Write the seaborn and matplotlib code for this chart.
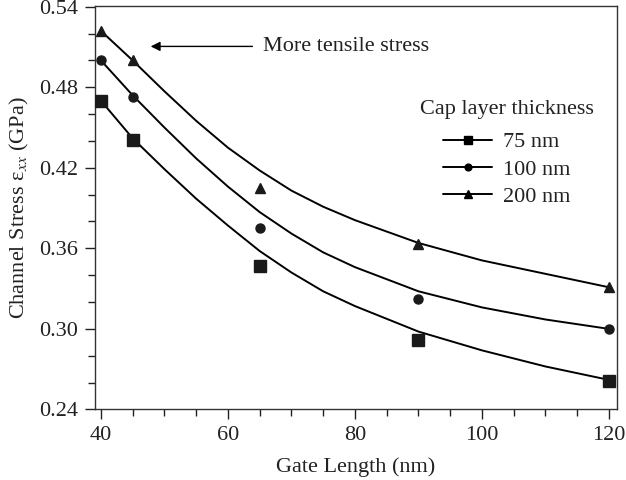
import numpy as np
import pandas as pd
import matplotlib
matplotlib.use('Agg')
import matplotlib.pyplot as plt
import seaborn as sns
from matplotlib.lines import Line2D
from matplotlib.ticker import MultipleLocator, FormatStrFormatter

# measured points
gate_length = [40, 45, 65, 90, 120]
stress_75 = [0.470, 0.441, 0.347, 0.292, 0.261]
stress_100 = [0.500, 0.473, 0.375, 0.322, 0.300]
stress_200 = [0.522, 0.500, 0.405, 0.363, 0.331]

# fitted curves
curve_x = [40, 45, 50, 55, 60, 65, 70, 75, 80, 90, 100, 110, 120]
curve_75 = [0.470, 0.442, 0.419, 0.397, 0.377, 0.358, 0.342, 0.328, 0.317, 0.298, 0.284, 0.272, 0.262]
curve_100 = [0.500, 0.474, 0.450, 0.427, 0.406, 0.387, 0.371, 0.357, 0.346, 0.328, 0.316, 0.307, 0.300]
curve_200 = [0.522, 0.500, 0.477, 0.455, 0.435, 0.418, 0.403, 0.391, 0.381, 0.364, 0.351, 0.341, 0.331]

labels = ['75 nm', '100 nm', '200 nm']
markers = ['s', 'o', '^']
msizes = [8, 6.5, 7.5]

sns.set_theme(style='ticks')
plt.rcParams['font.family'] = ['Liberation Serif', 'DejaVu Serif']
plt.rcParams['mathtext.fontset'] = 'stix'

pts = pd.DataFrame({'x': gate_length * 3,
                    'y': stress_75 + stress_100 + stress_200,
                    'cap': [l for l in labels for _ in gate_length]})
crv = pd.DataFrame({'x': curve_x * 3,
                    'y': curve_75 + curve_100 + curve_200,
                    'cap': [l for l in labels for _ in curve_x]})

fig = plt.figure(figsize=(6.26, 4.8), dpi=100)
ax = fig.add_axes([0.151, 0.147, 0.834, 0.8405])

sns.lineplot(data=crv, x='x', y='y', units='cap', estimator=None,
             color='black', lw=1.4, legend=False, ax=ax)
for lab, m, ms in zip(labels, markers, msizes):
    sub = pts[pts['cap'] == lab]
    ax.plot(sub['x'], sub['y'], ls='none', marker=m, ms=ms, color='#1a1a1a', zorder=3)

ax.set_xlim(39, 121.2)
ax.set_ylim(0.24, 0.5405)
ax.xaxis.set_major_locator(MultipleLocator(20))
ax.xaxis.set_minor_locator(MultipleLocator(5))
ax.yaxis.set_major_locator(MultipleLocator(0.06))
ax.yaxis.set_minor_locator(MultipleLocator(0.02))
ax.yaxis.set_major_formatter(FormatStrFormatter('%.2f'))
ax.tick_params(which='major', length=7, width=1, labelsize=16, pad=5,
               color='#222222', labelcolor='#222222')
ax.tick_params(which='minor', length=5, width=1, color='#222222')
for s in ax.spines.values():
    s.set_linewidth(1.0)
    s.set_color('#333333')

ax.set_xlabel('Gate Length (nm)', fontsize=16, color='#222222', labelpad=9)
ax.set_ylabel('Channel Stress ε$_{xx}$ (GPa)', fontsize=16, color='#222222', labelpad=6)

ax.annotate('', xy=(47.4, 0.5104), xytext=(64.3, 0.5104),
            arrowprops=dict(arrowstyle='-|>', color='black', lw=1.0, mutation_scale=14))
ax.text(65.6, 0.5104, 'More tensile stress', fontsize=16, va='center', ha='left', color='#222222')

handles = [Line2D([], [], color='black', lw=1.4, marker=m, ms=ms * 0.75)
           for m, ms in zip(markers, msizes)]
leg = ax.legend(handles, labels, title='Cap layer thickness', frameon=False,
                loc='upper center', bbox_to_anchor=(0.79, 0.805),
                fontsize=16, title_fontsize=16, handlelength=2.2,
                handletextpad=0.5, labelspacing=0.3, borderpad=0.2)
leg._legend_box.sep = 9
plt.setp(leg.get_texts(), color='#222222')
leg.get_title().set_color('#222222')

fig.savefig('out.png', dpi=100)
